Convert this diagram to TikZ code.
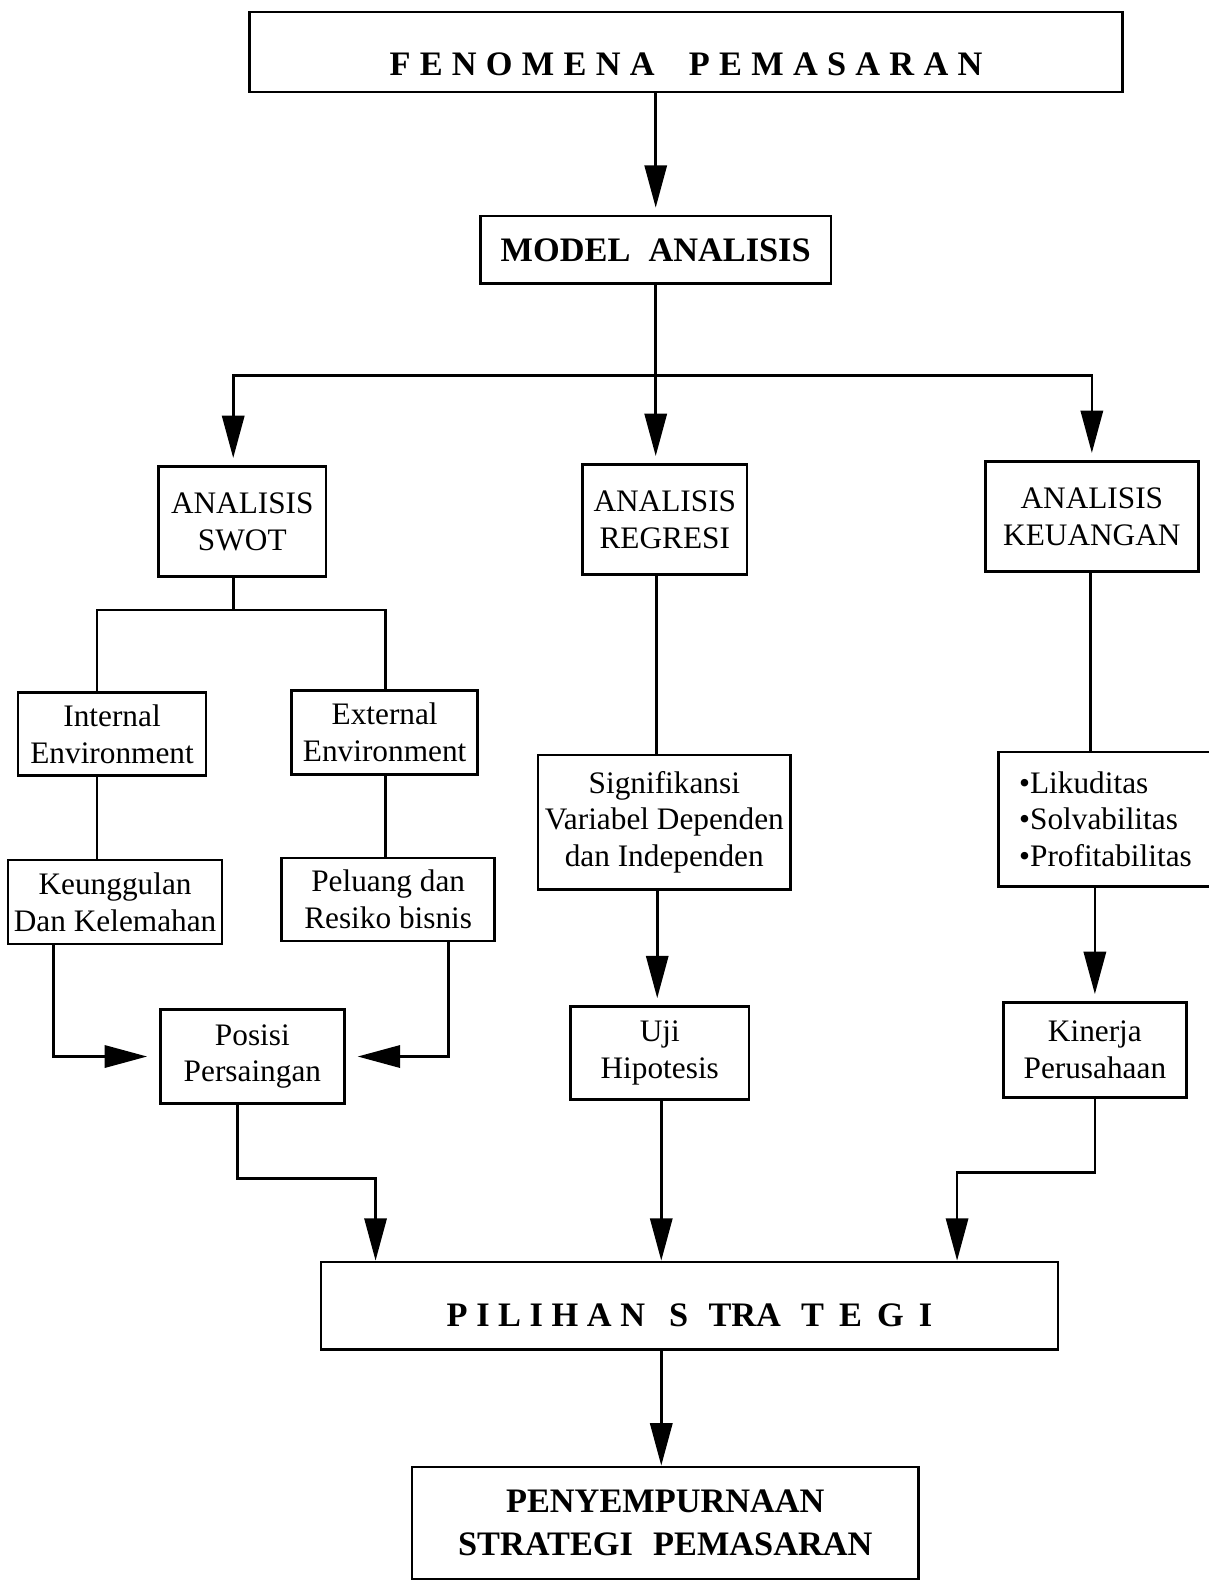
\documentclass[tikz,border=0pt]{standalone}
\usepackage{fontspec}
\setmainfont{Liberation Serif}
\usetikzlibrary{arrows.meta}
\begin{document}
\begin{tikzpicture}[x=0.5pt,y=-0.5pt,line width=1.3pt,>={Triangle[length=21pt,width=11pt]}]
	\tikzset{kotak/.style={draw,inner sep=0pt,align=center,font={\fontsize{15.5}{18.3}\selectfont}},
		judul/.style={kotak,font={\fontsize{17}{21}\selectfont\bfseries}},
		panah/.style={->,shorten >=3.5pt},
		panahsamping/.style={->,shorten >=6pt},
		panahbawah/.style={->}}
	\useasboundingbox (0,0) rectangle (1197,1568);
	% baris atas
	\node[judul,minimum width=432.5pt,minimum height=39.5pt,text height=23pt,text depth=0pt] (fenomena) at (679.5,51.5)
		{{\addfontfeatures{LetterSpace=27}FENOMENA}\hspace{17pt}{\addfontfeatures{LetterSpace=27}PEMASARAN}};
	\node[judul,minimum width=173.5pt,minimum height=33.5pt] (model) at (649.5,247.5) {MODEL\hspace{9pt}ANALISIS};
	% tiga analisis
	\node[kotak,minimum width=83pt,minimum height=54.5pt] (swot) at (240,516.5) {ANALISIS\\SWOT};
	\node[kotak,minimum width=81.5pt,minimum height=54.5pt] (regresi) at (658.5,514.5) {ANALISIS\\REGRESI};
	\node[kotak,minimum width=105.5pt,minimum height=54.5pt] (keuangan) at (1081.5,511.5) {ANALISIS\\KEUANGAN};
	% cabang swot
	\node[kotak,minimum width=93pt,minimum height=41pt] (internal) at (111,727) {Internal\\Environment};
	\node[kotak,minimum width=92pt,minimum height=41.5pt] (external) at (381,725.5) {External\\Environment};
	\node[kotak,minimum width=106pt,minimum height=41.5pt] (keunggulan) at (114,893.5) {Keunggulan\\Dan Kelemahan};
	\node[kotak,minimum width=105.5pt,minimum height=41pt] (peluang) at (384.5,891) {Peluang dan\\Resiko bisnis};
	\node[kotak,minimum width=91pt,minimum height=46.5pt] (posisi) at (250,1046.5) {Posisi\\Persaingan};
	% cabang regresi
	\node[kotak,minimum width=125pt,minimum height=66.5pt] (signifikansi) at (658,814.5) {Signifikansi\\Variabel Dependen\\dan Independen};
	\node[kotak,minimum width=88.5pt,minimum height=46pt] (uji) at (653.5,1043) {Uji\\Hipotesis};
	% cabang keuangan
	\node[kotak,align=left,minimum width=106pt,minimum height=66.5pt] (rasio) at (1095,811.5) {•Likuditas\\•Solvabilitas\\•Profitabilitas};
	\node[kotak,minimum width=90.5pt,minimum height=47pt] (kinerja) at (1084.5,1040) {Kinerja\\Perusahaan};
	% baris bawah
	\node[judul,minimum width=365pt,minimum height=43.5pt,text height=20pt,text depth=0pt] (pilihan) at (683,1293.5)
		{{\addfontfeatures{LetterSpace=25}PILIHAN}\hspace{12pt}S\hspace{10pt}TRA\hspace{10pt}{\addfontfeatures{LetterSpace=44}TEGI}};
	\node[judul,minimum width=251pt,minimum height=55.5pt] (penyempurnaan) at (659,1508.5) {PENYEMPURNAAN\\STRATEGI\hspace{10pt}PEMASARAN};
	% panah
	\draw[panah] (model.north |- fenomena.south) -- (model.north);
	\draw (model.south) -- (model.south |- 0,372) coordinate (cabang);
	\draw[panah] (cabang) -| ([xshift=-4.5pt]swot.north);
	\draw[panah] (cabang) -- (cabang |- regresi.north);
	\draw[panah] (cabang) -| (keuangan.north);
	\draw ([xshift=-4.5pt]swot.south) -- ++(0,32) coordinate (cabangswot);
	\draw (cabangswot) -| ([xshift=-7.5pt]internal.north);
	\draw (cabangswot) -| ([xshift=0.5pt]external.north);
	\draw ([xshift=-7.5pt]internal.south) -- ([xshift=-9pt]keunggulan.north);
	\draw ([xshift=0.5pt]external.south) -- ([xshift=-1.25pt]peluang.north);
	\draw[panahsamping] ([xshift=-30.5pt]keunggulan.south) |- (posisi.west);
	\draw[panahsamping] ([xshift=29.75pt]peluang.south) |- (posisi.east);
	\draw[panahbawah] ([xshift=-7.5pt]posisi.south) -- ++(0,73) -| ([xshift=-155.5pt]pilihan.north);
	\draw ([xshift=-4.25pt]regresi.south) -- ([xshift=-4pt]signifikansi.north);
	\draw[panah] ([xshift=-3.5pt]signifikansi.south) -- ([xshift=-1.25pt]uji.north);
	\draw[panahbawah] ([xshift=0.75pt]uji.south) -- ([xshift=-14pt]pilihan.north);
	\draw ([xshift=-0.75pt]keuangan.south) -- ([xshift=-7.5pt]rasio.north);
	\draw[panah] (kinerja.north |- rasio.south) -- (kinerja.north);
	\draw[panahbawah] (kinerja.south) -- ++(0,73) -| ([xshift=132.5pt]pilihan.north);
	\draw[panahbawah] ([xshift=-14pt]pilihan.south) -- ([xshift=-2pt]penyempurnaan.north);
\end{tikzpicture}
\end{document}
